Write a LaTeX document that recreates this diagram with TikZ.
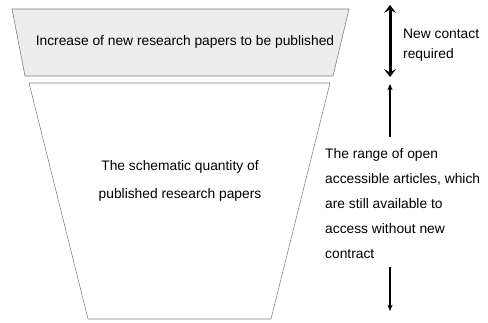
\documentclass[tikz,border=0pt]{standalone}
\usepackage{fontspec}
\setmainfont{Liberation Sans}
\usetikzlibrary{arrows.meta}
\begin{document}
\begin{tikzpicture}[x=1pt,y=-1pt,
  funnel/.style={draw=black!50, line width=0.6pt},
  lbl/.style={font=\fontsize{13.8}{25}\selectfont, inner sep=0pt},
  bigarrow/.style={line width=3pt, {Stealth[length=8pt,width=12pt,inset=3.5pt]}-{Stealth[length=8pt,width=12pt,inset=3.5pt]}},
  thinarrow/.style={line width=1.1pt, -{Stealth[length=6pt,width=5pt,inset=1.5pt]}}]
\useasboundingbox (0,0) rectangle (488,323);
% upper band: new papers still to come
\draw[funnel, fill=black!7] (12,9) -- (349,9) -- (333,76) -- (25,76) -- cycle;
\node[lbl] (incr) at (185,42) {Increase of new research papers to be published};
% lower body: papers already published
\draw[funnel, fill=white] (29,83) -- (330,83) -- (271,319) -- (88,319) -- cycle;
\node[lbl, align=center, font=\fontsize{13.8}{28}\selectfont] (qty) at (180,181) {The schematic quantity of\\published research papers};
% right-hand ranges
\coordinate (ctop) at (390,5);
\coordinate (cbot) at (390,77);
\draw[bigarrow] (ctop) -- (cbot);
\node[lbl, anchor=west, align=left, font=\fontsize{13.8}{20}\selectfont] (contract) at (403,45) {New contact\\required};
\node[lbl, anchor=north west, align=left] (range) at (325,148) {The range of open\\accessible articles, which\\are still available to\\access without new\\contract};
\coordinate (oatop) at (390,84);
\coordinate (oabot) at (390,311);
\draw[thinarrow] (390,137) -- (oatop);
\draw[thinarrow] (390,267) -- (oabot);
\end{tikzpicture}
\end{document}
